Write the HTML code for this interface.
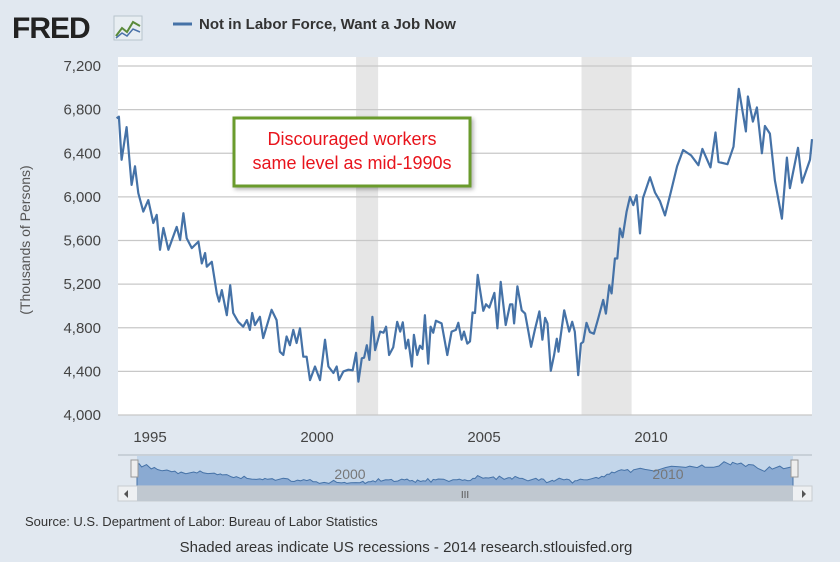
<!DOCTYPE html>
<html><head><meta charset="utf-8">
<style>
body{margin:0;background:#e1e8f0;font-family:"Liberation Sans",sans-serif;}
#wrap{position:relative;width:840px;height:562px;overflow:hidden;background:#e1e8f0;}
svg text{font-family:"Liberation Sans",sans-serif;}
</style></head>
<body>
<div id="wrap">
<svg id="chart" width="840" height="562">
  <g>
    <text x="12" y="38" font-size="30" font-weight="bold" fill="#222" letter-spacing="-1">FRED</text>
    <rect x="114" y="16" width="28" height="24" fill="#e8eef2" stroke="#b8c4cc"/>
    <polyline points="116,36 122,28 127,32 133,22 140,26" fill="none" stroke="#5a8a3a" stroke-width="2"/>
    <polyline points="116,38 122,33 127,36 133,29 140,32" fill="none" stroke="#4a72a8" stroke-width="1.5"/>
  </g>
  <g>
    <line x1="173" y1="24" x2="192" y2="24" stroke="#4572a7" stroke-width="3"/>
    <text x="199" y="29" font-size="15" font-weight="bold" fill="#333">Not in Labor Force, Want a Job Now</text>
  </g>
  <rect x="118" y="57" width="694" height="358" fill="#ffffff"/>
  <g id="recessions"></g>
  <g id="grid"></g>
  <g id="yticks"></g>
  <g id="xticks"></g>
  <text transform="translate(30,240) rotate(-90)" text-anchor="middle" font-size="14" fill="#555">(Thousands of Persons)</text>
  <path id="series" fill="none" stroke="#4572a7" stroke-width="2.2" stroke-linejoin="round"/>
  <g>
    <rect x="234" y="118" width="236" height="68" fill="#fff" stroke="#6a9b2c" stroke-width="3" style="filter:drop-shadow(2px 2px 2px rgba(0,0,0,0.3))"/>
    <text x="352" y="145" text-anchor="middle" font-size="18" fill="#e8141c">Discouraged workers</text>
    <text x="352" y="169" text-anchor="middle" font-size="18" fill="#e8141c">same level as mid-1990s</text>
  </g>
  <g>
    <line x1="118" y1="455" x2="812" y2="455" stroke="#b0b8c0"/>
    <rect x="137" y="456" width="656" height="30" fill="#c3d6ea"/>
    <path id="navArea" fill="#8aaad2" stroke="#4572a7" stroke-width="1"/>
    <text x="350" y="479" text-anchor="middle" font-size="14" fill="#777">2000</text>
    <text x="668" y="479" text-anchor="middle" font-size="14" fill="#777">2010</text>
    <rect x="131" y="460" width="7" height="17" fill="#eee" stroke="#999"/>
    <rect x="791" y="460" width="7" height="17" fill="#eee" stroke="#999"/>
    <rect x="118" y="486" width="694" height="15" fill="#eef0f2" stroke="#c8ccd0"/>
    <rect x="137" y="486" width="656" height="15" fill="#c0c8d0"/>
    <text x="465" y="498" text-anchor="middle" font-size="10" fill="#555">III</text>
    <path d="M128,490 L124,494 L128,498 Z" fill="#555"/>
    <path d="M802,490 L806,494 L802,498 Z" fill="#555"/>
  </g>
  <text x="25" y="526" font-size="13" fill="#333">Source: U.S. Department of Labor: Bureau of Labor Statistics</text>
  <text x="406" y="552" text-anchor="middle" font-size="15" fill="#333">Shaded areas indicate US recessions - 2014 research.stlouisfed.org</text>
</svg>
</div>
<script>
const startYear = 1994;
const yearsSinceStart = [0.0,0.07,0.15,0.30,0.45,0.55,0.65,0.80,0.95,1.10,1.20,1.30,1.40,1.55,1.80,1.90,2.00,2.10,2.25,2.45,2.55,2.65,2.70,2.85,3.00,3.07,3.15,3.30,3.40,3.49,3.64,3.79,3.90,3.99,4.06,4.14,4.29,4.39,4.64,4.79,4.89,4.99,5.09,5.19,5.29,5.39,5.49,5.59,5.69,5.79,5.94,6.09,6.24,6.34,6.49,6.59,6.66,6.79,6.94,7.07,7.17,7.24,7.34,7.41,7.49,7.57,7.66,7.74,7.89,7.99,8.07,8.16,8.28,8.40,8.49,8.57,8.66,8.73,8.84,8.90,9.00,9.08,9.16,9.23,9.33,9.40,9.48,9.56,9.73,9.90,10.03,10.16,10.23,10.33,10.40,10.50,10.58,10.66,10.73,10.81,10.98,11.06,11.16,11.31,11.40,11.50,11.65,11.78,11.85,11.90,12.00,12.13,12.23,12.33,12.41,12.53,12.66,12.75,12.83,12.90,13.00,13.10,13.18,13.23,13.40,13.55,13.64,13.72,13.82,13.90,13.97,14.07,14.17,14.29,14.42,14.57,14.65,14.75,14.82,14.92,14.99,15.07,15.15,15.27,15.37,15.47,15.57,15.67,15.76,15.97,16.12,16.27,16.42,16.60,16.78,16.96,17.20,17.42,17.54,17.78,17.93,18.02,18.29,18.47,18.63,18.84,18.90,19.05,19.17,19.32,19.41,19.56,19.71,19.92,20.07,20.16,20.40,20.52,20.76,20.82];
const values = [6720,6735,6340,6640,6110,6280,6035,5865,5970,5760,5835,5515,5715,5515,5725,5605,5850,5620,5530,5590,5390,5485,5360,5405,5115,5040,5145,4915,5190,4935,4855,4810,4870,4780,4935,4825,4900,4705,4965,4870,4580,4550,4720,4640,4780,4660,4795,4535,4535,4320,4445,4320,4690,4445,4385,4445,4320,4400,4415,4410,4570,4305,4520,4525,4640,4505,4900,4595,4765,4755,4810,4550,4620,4855,4765,4850,4610,4690,4445,4735,4550,4635,4605,4915,4470,4810,4755,4865,4840,4550,4765,4780,4845,4690,4765,4655,4675,4940,4935,5285,4955,5015,4985,5120,4795,5220,4825,5015,5015,4840,5180,4960,4930,4765,4625,4790,4950,4690,4890,4840,4405,4550,4700,4580,4960,4765,4855,4765,4365,4655,4670,4845,4760,4745,4885,5055,4930,5190,5115,5435,5435,5710,5630,5865,6000,5925,6015,5665,5990,6180,6040,5960,5830,6050,6280,6430,6380,6290,6440,6270,6590,6320,6300,6460,6990,6600,6920,6690,6820,6400,6650,6580,6150,5800,6360,6080,6450,6130,6340,6530];
const yTicks = [4000,4400,4800,5200,5600,6000,6400,6800,7200];
const yTickLabels = ["4,000","4,400","4,800","5,200","5,600","6,000","6,400","6,800","7,200"];
const xTicks = [1995,2000,2005,2010];
const recStart = [2001.17,2007.92];
const recEnd = [2001.83,2009.42];

const NS="http://www.w3.org/2000/svg";
function xs(yr){return 116.6+(yr-1994)*33.4;}
function ys(v){return 415-(v-4000)*(349/3200);}
function nx(yr){return 137+(yr-1994)*(656/20.82);}
function ny(v){return 486-(v-4000)*(26/3200);}
function mk(tag,attrs,parent){const e=document.createElementNS(NS,tag);for(const k in attrs)e.setAttribute(k,attrs[k]);parent.appendChild(e);return e;}

const rg=document.getElementById('recessions');
recStart.forEach((s,i)=>{
  const r=mk('rect',{x:xs(s),y:57,width:xs(recEnd[i])-xs(s),height:358,fill:'#e6e6e6'},rg);
  
  
});
const gg=document.getElementById('grid'), yt=document.getElementById('yticks');
yTicks.forEach((v,i)=>{
  const l=mk('line',{x1:118,x2:812,y1:ys(v),y2:ys(v),stroke:'#c8c8c8','stroke-width':1.2},gg);
  
  
  const t=mk('text',{x:101,y:ys(v)+5,'text-anchor':'end','font-size':15,fill:'#444'},yt);
  t.textContent=yTickLabels[i];
  
  
});
const xt=document.getElementById('xticks');
xTicks.forEach(yr=>{
  const t=mk('text',{x:xs(yr),y:442,'text-anchor':'middle','font-size':15,fill:'#444'},xt);
  t.textContent=yr;
  
  
});
let d='';
yearsSinceStart.forEach((t,i)=>{d+=(i?'L':'M')+xs(startYear+t).toFixed(1)+','+ys(values[i]).toFixed(1);});
document.getElementById('series').setAttribute('d',d);
let nd='M'+nx(startYear)+',486';
yearsSinceStart.forEach((t,i)=>{nd+='L'+nx(startYear+t).toFixed(1)+','+ny(values[i]).toFixed(1);});
nd+='L'+nx(startYear+yearsSinceStart[yearsSinceStart.length-1]).toFixed(1)+',486Z';
document.getElementById('navArea').setAttribute('d',nd);
</script>
</body></html>
